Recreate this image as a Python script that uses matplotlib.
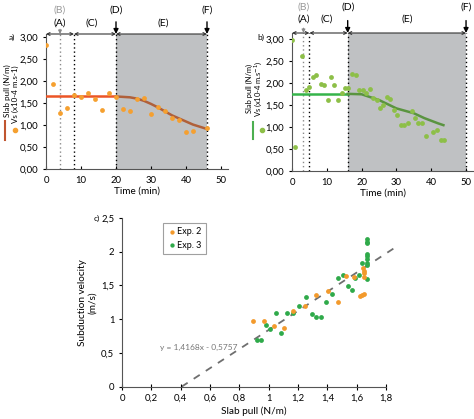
import matplotlib.pyplot as plt
from matplotlib.ticker import FuncFormatter

plt.rcParams['font.family'] = ['Lato', 'DejaVu Sans']

# --- panel a (Exp. 2) ---
time_a = [0, 2, 4, 6, 8, 10, 12, 14, 16, 18, 20, 22, 24, 26, 28, 30, 32, 34, 36, 38, 40, 42, 46]
vs_a = [2.82, 1.93, 1.28, 1.38, 1.68, 1.64, 1.73, 1.59, 1.34, 1.72, 1.64, 1.36, 1.32, 1.59, 1.61,
        1.24, 1.40, 1.33, 1.15, 1.11, 0.85, 0.87, 0.94]
pull_a_flat_t = [0, 20]
pull_a_flat = [1.65, 1.65]
pull_a_t = [20, 22, 24, 26, 28, 30, 32, 34, 36, 38, 40, 42, 44, 46]
pull_a = [1.65, 1.64, 1.63, 1.60, 1.55, 1.48, 1.40, 1.31, 1.22, 1.15, 1.08, 1.01, 0.96, 0.91]

# --- panel b (Exp. 3) ---
time_b = [0, 1, 3, 4, 5, 6, 7, 8.2, 9.2, 10.2, 11.2, 12.2, 13.3, 14.3, 15.2, 16.2, 17.2, 18.4,
          19.3, 20.3, 21.3, 22.4, 23.4, 24.3, 25.3, 26.2, 27.2, 28.2, 29.3, 30.3, 31.3, 32.3,
          33.4, 34.4, 35.3, 36.3, 37.3, 38.4, 40.4, 41.6, 42.7, 43.6]
vs_b = [2.98, 0.55, 2.61, 1.84, 1.90, 2.14, 2.18, 1.97, 1.95, 1.61, 2.14, 1.94, 1.61, 1.78,
        1.89, 1.89, 2.20, 2.18, 1.84, 1.84, 1.77, 1.86, 1.65, 1.61, 1.44, 1.50, 1.67, 1.63,
        1.39, 1.26, 1.05, 1.05, 1.10, 1.35, 1.20, 1.10, 1.10, 0.80, 0.89, 0.93, 0.70, 0.70]
pull_b_flat_t = [0, 16]
pull_b_flat = [1.75, 1.75]
pull_b_t = [16, 20, 25, 30, 35, 38, 42, 43.5]
pull_b = [1.75, 1.74, 1.61, 1.42, 1.31, 1.20, 1.08, 1.04]

# --- panel c ---
pull_exp2 = [0.895, 0.968, 1.036, 1.104, 1.168, 1.247, 1.322, 1.406, 1.47, 1.525, 1.584,
             1.622, 1.636, 1.65, 1.645, 1.65, 1.65, 1.65]
vel_exp2 = [0.967, 0.967, 0.893, 0.874, 1.124, 1.19, 1.36, 1.42, 1.26, 1.64, 1.63,
            1.35, 1.36, 1.38, 1.76, 1.72, 1.68, 1.63]
pull_exp3 = [0.918, 0.945, 0.98, 1.009, 1.05, 1.084, 1.123, 1.164, 1.207, 1.254, 1.293, 1.322,
             1.357, 1.39, 1.43, 1.47, 1.509, 1.538, 1.565, 1.588, 1.616, 1.634, 1.668, 1.668,
             1.668, 1.668, 1.668, 1.668, 1.668, 1.668, 1.668]
vel_exp3 = [0.686, 0.686, 0.908, 0.857, 1.095, 0.795, 1.09, 1.09, 1.20, 1.33, 1.08, 1.04,
            1.035, 1.25, 1.38, 1.61, 1.66, 1.49, 1.43, 1.61, 1.66, 1.84, 2.19, 2.15, 2.13,
            1.96, 1.93, 1.89, 1.84, 1.80, 1.59]
slope, intercept = 1.4168, -0.5757

comma2 = FuncFormatter(lambda v, p: f"{v:.2f}".replace('.', ','))
commag = FuncFormatter(lambda v, p: f"{v:g}".replace('.', ','))

fig = plt.figure(figsize=(4.74, 4.19), dpi=100)
W, H = 474, 419


def fx(px):
    return px / W


def fy(py):
    return 1 - py / H


def time_panel(rect, ytop, t, v, flat_t, flat, dec_t, dec, pt_col, flat_col, dec_col,
               b_t, a_end, d_t, f_t, labels_x, lab_y):
    ax = fig.add_axes(rect)
    ax.set_xlim(0, 52)
    ax.set_ylim(0, ytop)
    ax.axvspan(d_t, f_t, color='#bfc1c3', lw=0, zorder=0)
    for xv, c in [(b_t, '#8a8a8a'), (a_end, 'black'), (d_t, 'black'), (f_t, 'black')]:
        ax.plot([xv, xv], [0, ytop], ls=(0, (1, 2)), color=c, lw=1, zorder=1)
    ax.plot(flat_t, flat, color=flat_col, lw=1.8, zorder=3)
    ax.plot(dec_t, dec, color=dec_col, lw=1.8, zorder=3)
    ax.scatter(t, v, s=12, color=pt_col, lw=0, zorder=4)
    ax.set_yticks([0, 0.5, 1, 1.5, 2, 2.5, 3])
    ax.set_xticks([0, 10, 20, 30, 40, 50])
    ax.yaxis.set_major_formatter(comma2)
    ax.tick_params(axis='x', direction='in', length=2, labelsize=6.8, pad=5)
    ax.tick_params(axis='y', direction='out', length=2, labelsize=6.8)
    for s in ['top', 'right']:
        ax.spines[s].set_visible(False)
    for s in ['left', 'bottom']:
        ax.spines[s].set_color('#555555')
    ax.set_xlabel('Time (min)', fontsize=7.2, labelpad=1)
    # segment arrows along the top
    for x0, x1 in [(0, a_end), (a_end, d_t), (d_t, f_t)]:
        ax.annotate('', xy=(x1, ytop), xytext=(x0, ytop), annotation_clip=False,
                    arrowprops=dict(arrowstyle='<->', color='#333333', lw=0.8,
                                    shrinkA=0, shrinkB=0, mutation_scale=5))
    tr = ax.get_xaxis_transform()
    for xv in (d_t, f_t):
        ax.annotate('', xy=(xv, 1.0), xytext=(xv, 1.09), xycoords=tr, annotation_clip=False,
                    arrowprops=dict(arrowstyle='-|>', color='black', lw=1, shrinkA=0,
                                    shrinkB=0, mutation_scale=7))
    ax.annotate('', xy=(b_t, 1.0), xytext=(b_t, 1.035), xycoords=tr, annotation_clip=False,
                arrowprops=dict(arrowstyle='-|>', color='#8a8a8a', lw=0.8, shrinkA=0,
                                shrinkB=0, mutation_scale=5))
    lx_b, lx_a, lx_c, lx_d, lx_e, lx_f = labels_x
    y_hi, y_lo = lab_y
    ax.text(lx_b, y_hi, '(B)', color='#999999', fontsize=7.5, ha='center', va='center',
            transform=tr)
    ax.text(lx_a, y_lo, '(A)', fontsize=7.5, ha='center', va='center', transform=tr)
    ax.text(lx_c, y_lo, '(C)', fontsize=7.5, ha='center', va='center', transform=tr)
    ax.text(lx_d, y_hi, '(D)', fontsize=7.5, ha='center', va='center', transform=tr)
    ax.text(lx_e, y_lo, '(E)', fontsize=7.5, ha='center', va='center', transform=tr)
    ax.text(lx_f, y_hi, '(F)', fontsize=7.5, ha='center', va='center', transform=tr)
    return ax


# panel a
ax_a = time_panel([fx(46), fy(169), fx(182), (169 - 34) / H], 3.07,
                  time_a, vs_a, pull_a_flat_t, pull_a_flat, pull_a_t, pull_a,
                  '#f5a030', '#ec5526', '#b0603a',
                  4, 8, 20, 46, (4, 4, 13, 20, 33.5, 46), (1.175, 1.08))
# panel b
ax_b = time_panel([fx(292), fy(171), fx(181), (171 - 33) / H], 3.13,
                  time_b, vs_b, pull_b_flat_t, pull_b_flat, pull_b_t, pull_b,
                  '#8dbf48', '#35b44a', '#5a9440',
                  3.3, 5, 16, 50, (3.4, 3.4, 10, 16, 33, 50), (1.19, 1.10))

# side labels with legend marks
fig.text(fx(7), fy(91), 'Slab pull (N/m)', rotation=90, fontsize=5.8, ha='center', va='center')
fig.text(fx(15), fy(94), 'Vs (x10-4 m.s-1)', rotation=90, fontsize=5.8, ha='center', va='center')
fig.add_artist(plt.Line2D([fx(5), fx(5)], [fy(121), fy(140)], color='#c0552f', lw=1.5))
fig.add_artist(plt.Line2D([fx(15)], [fy(130)], marker='o', ms=3, color='#f5a030', lw=0))
fig.text(fx(12), fy(37), 'a)', fontsize=6, ha='center', va='center')

fig.text(fx(249.5), fy(88), 'Slab pull (N/m)', rotation=90, fontsize=5.4, ha='center',
         va='center')
fig.text(fx(258.5), fy(89), 'Vs (x10-4 m.s$^{-1}$)', rotation=90, fontsize=5.4, ha='center',
         va='center')
fig.add_artist(plt.Line2D([fx(253), fx(253)], [fy(122), fy(139)], color='#4caf50', lw=1.5))
fig.add_artist(plt.Line2D([fx(262)], [fy(130)], marker='o', ms=3, color='#8dbf48', lw=0))
fig.text(fx(261), fy(37), 'b)', fontsize=6, ha='center', va='center')

# panel c
ax_c = fig.add_axes([fx(122), fy(386.7), fx(264), 168.7 / H])
ax_c.set_xlim(0, 1.8)
ax_c.set_ylim(0, 2.5)
x0 = -intercept / slope
x1 = 1.86
ax_c.plot([x0, x1], [slope * x0 + intercept, slope * x1 + intercept], ls=(0, (4, 4)),
          color='#6f6f6f', lw=1.3, zorder=1, clip_on=False)
ax_c.scatter(pull_exp2, vel_exp2, s=12, color='#f39a2c', lw=0, zorder=3, label='Exp. 2')
ax_c.scatter(pull_exp3, vel_exp3, s=12, color='#2faa4a', lw=0, zorder=2, label='Exp. 3')
ax_c.set_xticks([0, 0.2, 0.4, 0.6, 0.8, 1, 1.2, 1.4, 1.6, 1.8])
ax_c.set_yticks([0, 0.5, 1, 1.5, 2, 2.5])
ax_c.xaxis.set_major_formatter(commag)
ax_c.yaxis.set_major_formatter(commag)
ax_c.tick_params(axis='x', direction='inout', length=4, labelsize=6.8, pad=3)
ax_c.tick_params(axis='y', direction='out', length=2, labelsize=6.8)
for s in ['top', 'right']:
    ax_c.spines[s].set_visible(False)
for s in ['left', 'bottom']:
    ax_c.spines[s].set_color('#555555')
ax_c.set_xlabel('Slab pull (N/m)', fontsize=7.2, labelpad=3)
ax_c.set_ylabel('Subduction velocity\n(m/s)', fontsize=7.2, labelpad=3)
ax_c.text(0.26, 0.58, 'y = 1,4168x - 0,5757', fontsize=6.0, color='#777777', va='center')
leg = ax_c.legend(loc='upper left', bbox_to_anchor=(fx(158 - 122) / fx(264), 1.0),
                  fontsize=6.5, frameon=True, fancybox=False, handletextpad=0.1,
                  borderpad=0.5, labelspacing=0.5, handlelength=1, markerscale=0.9)
leg.get_frame().set_edgecolor('#888888')
leg.get_frame().set_linewidth(0.8)
fig.text(fx(97), fy(218), 'c)', fontsize=6, ha='center', va='center')

fig.savefig('out.png', dpi=100)
